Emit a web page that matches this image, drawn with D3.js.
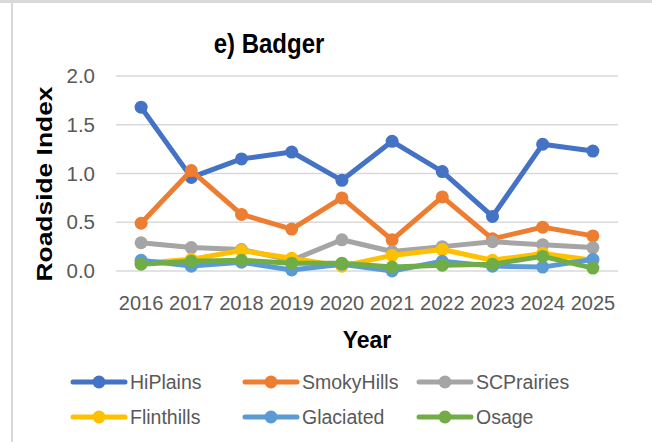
<!DOCTYPE html>
<html><head><meta charset="utf-8">
<script src="https://cdn.jsdelivr.net/npm/d3@7"></script>
<style>body{margin:0;background:#fff;}svg{display:block;}</style>
</head><body>
<script>
const years = ["2016","2017","2018","2019","2020","2021","2022","2023","2024","2025"];
const seriesNames = ["HiPlains","SmokyHills","SCPrairies","Flinthills","Glaciated","Osage"];
const seriesColors = ["#4472C4","#ED7D31","#A5A5A5","#FFC000","#5B9BD5","#70AD47"];
const hiPlains   = [1.68,0.96,1.15,1.22,0.93,1.33,1.02,0.56,1.30,1.23];
const smokyHills = [0.49,1.03,0.58,0.43,0.75,0.32,0.76,0.33,0.45,0.36];
const scPrairies = [0.29,0.24,0.22,0.11,0.32,0.20,0.25,0.30,0.27,0.24];
const flinthills = [0.08,0.12,0.21,0.13,0.05,0.16,0.22,0.11,0.18,0.11];
const glaciated  = [0.11,0.05,0.09,0.01,0.07,0.00,0.10,0.05,0.04,0.12];
const osage      = [0.07,0.10,0.11,0.08,0.08,0.04,0.06,0.07,0.15,0.03];
const yTicks = [0,0.5,1.0,1.5,2.0];
const seriesValues = [hiPlains,smokyHills,scPrairies,flinthills,glaciated,osage];

const W=652,H=442;
const svg=d3.select("body").append("svg").attr("width",W).attr("height",H);
svg.append("rect").attr("width",W).attr("height",H).attr("fill","#fff");
svg.append("rect").attr("x",0).attr("y",0).attr("width",W).attr("height",3).attr("fill","#d9d9d9");
svg.append("rect").attr("x",11).attr("y",0).attr("width",2).attr("height",H).attr("fill","#d9d9d9");

const x=d3.scaleBand().domain(years).range([116,618]);
const y=d3.scaleLinear().domain([0,2]).range([271,76]);

// gridlines
svg.append("g").selectAll("line").data(yTicks).join("line")
  .attr("x1",116).attr("x2",618).attr("y1",d=>y(d)).attr("y2",d=>y(d))
  .attr("stroke","#d9d9d9").attr("stroke-width",1.5);

const font="'Liberation Sans', Arial, sans-serif";
// y axis
const ya=svg.append("g").attr("transform","translate(116,0)")
  .call(d3.axisLeft(y).tickValues(yTicks).tickFormat(d3.format(".1f")).tickSize(0).tickPadding(21));
ya.select(".domain").remove();
ya.selectAll("text").attr("fill","#595959").style("font-family",font).style("font-size","20.5px");

// x axis
const xa=svg.append("g").attr("transform","translate(0,271)")
  .call(d3.axisBottom(x).tickSize(0).tickPadding(25));
xa.select(".domain").remove();
xa.selectAll("text").attr("fill","#595959").style("font-family",font).style("font-size","20px");

// lines
const line=d3.line().x((d,i)=>x(years[i])+x.bandwidth()/2).y(d=>y(d));
seriesValues.forEach((vals,si)=>{
  const g=svg.append("g");
  g.append("path").attr("d",line(vals)).attr("fill","none")
    .attr("stroke",seriesColors[si]).attr("stroke-width",5).attr("stroke-linejoin","round");
  g.selectAll("circle").data(vals).join("circle")
    .attr("cx",(d,i)=>x(years[i])+x.bandwidth()/2).attr("cy",d=>y(d)).attr("r",6.5)
    .attr("fill",seriesColors[si]);
});

// titles
svg.append("text").attr("transform","translate(269,53) scale(1,1.15)").attr("text-anchor","middle")
  .style("font-family",font).style("font-weight","bold").style("font-size","24px").text("e) Badger");
svg.append("text").attr("transform","translate(52,184) rotate(-90) scale(1.2,1)").attr("text-anchor","middle")
  .style("font-family",font).style("font-weight","bold").style("font-size","22px").text("Roadside Index");
svg.append("text").attr("x",367).attr("y",348).attr("text-anchor","middle")
  .style("font-family",font).style("font-weight","bold").style("font-size","23px").text("Year");

// legend
const legX=[73,245,419], legY=[382,417];
seriesNames.forEach((n,i)=>{
  const lx=legX[i%3], ly=legY[Math.floor(i/3)];
  const g=svg.append("g");
  g.append("line").attr("x1",lx).attr("x2",lx+52).attr("y1",ly).attr("y2",ly)
    .attr("stroke",seriesColors[i]).attr("stroke-width",5).attr("stroke-linecap","round");
  g.append("circle").attr("cx",lx+26).attr("cy",ly).attr("r",6.5).attr("fill",seriesColors[i]);
  g.append("text").attr("x",lx+57).attr("y",ly+7).attr("fill","#595959")
    .style("font-family",font).style("font-size","19.5px").text(n);
});
</script>
</body></html>
